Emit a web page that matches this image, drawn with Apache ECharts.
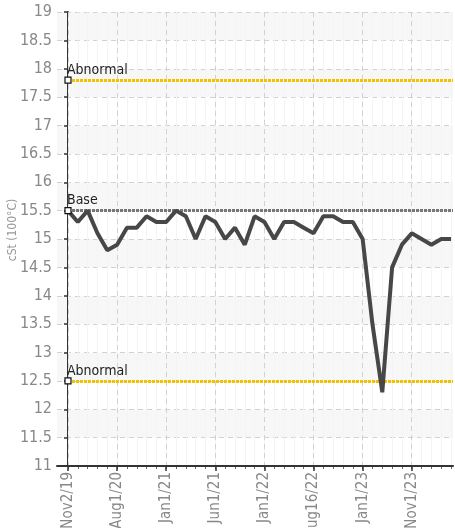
<!DOCTYPE html>
<html><head><meta charset="utf-8">
<script src="https://cdn.jsdelivr.net/npm/echarts@6/dist/echarts.min.js"></script>
<style>html,body{margin:0;padding:0;background:#fff}#c{width:455px;height:528px}</style>
</head><body><div id="c"></div>
<script>
// Category labels shown every 5th sample
const tickLabels = ['Nov2/19','Aug1/20','Jan1/21','Jun1/21','Jan1/22','Aug16/22','Jan1/23','Nov1/23'];
const labelStep = 5;
// Viscosity samples, cSt at 100°C
const viscosity = [15.5,15.3,15.5,15.1,14.8,14.9,15.2,15.2,15.4,15.3,
                   15.3,15.5,15.4,15.0,15.4,15.3,15.0,15.2,14.9,15.4,
                   15.3,15.0,15.3,15.3,15.2,15.1,15.4,15.4,15.3,15.3,
                   15.0,13.5,12.3,14.5,14.9,15.1,15.0,14.9,15.0,15.0];
// Reference limits
const limitNames = ['Abnormal','Base','Abnormal'];
const limitValues = [17.8, 15.5, 12.5];
const yTicks = {min: 11, max: 19, step: 0.5};

const FONT = "'Liberation Sans Narrow','DejaVu Sans Condensed','Roboto',sans-serif";
const limitColors = ['#f2c200','#777777','#f2c200'];
const xMin = -1.12, xMax = 39.2;
const seriesData = viscosity.map((v, i) => [i, v]);
const majorVals = tickLabels.map((_, k) => k * labelStep);
const allVals = viscosity.map((_, i) => i);

const chart = echarts.init(document.getElementById('c'), null, {renderer: 'canvas'});
chart.setOption({
  animation: false,
  backgroundColor: '#fff',
  grid: {left: 57, right: 2, top: 12, bottom: 62, containLabel: false, outerBoundsMode: 'none'},
  xAxis: [{
    type: 'value', min: xMin, max: xMax, position: 'bottom',
    axisLine: {show: true, onZero: false, lineStyle: {color: '#333', width: 2}},
    axisTick: {show: true, customValues: majorVals, length: 5, lineStyle: {color: '#333', width: 1.5}},
    axisLabel: {show: true, customValues: majorVals, rotate: 90, color: '#888', fontSize: 15, fontFamily: FONT, margin: 6,
      formatter: v => tickLabels[Math.round(v / labelStep)] || ''},
    splitLine: {show: true, lineStyle: {color: '#d2d2d2', type: [5, 4], width: 1}},
    z: 3
  }, {
    type: 'value', min: xMin, max: xMax, position: 'bottom',
    axisLine: {show: false, onZero: false},
    axisTick: {show: true, customValues: allVals, length: 3, lineStyle: {color: '#666', width: 1}},
    axisLabel: {show: false},
    splitLine: {show: true, lineStyle: {color: '#f4f4f4', width: 1}},
    z: 1
  }],
  yAxis: {
    type: 'value', min: yTicks.min, max: yTicks.max, interval: yTicks.step,
    name: 'cSt (100°C)', nameLocation: 'middle', nameGap: 38, nameMoveOverlap: false,
    nameTextStyle: {color: '#999', fontSize: 12, fontFamily: FONT, padding: [0, 0, 0, 18]},
    axisLine: {show: true, lineStyle: {color: '#333', width: 2}},
    axisTick: {show: true, length: 4, lineStyle: {color: '#333', width: 1.5}},
    axisLabel: {color: '#888', fontSize: 16, fontFamily: FONT, margin: 5},
    splitLine: {show: true, lineStyle: {color: '#d2d2d2', type: [5, 4], width: 1}},
    splitArea: {show: true, areaStyle: {color: ['#ffffff', '#f7f7f7']}}
  },
  series: [{
    type: 'line', data: seriesData, showSymbol: false, symbol: 'none',
    lineStyle: {color: '#474747', width: 4}, z: 5,
    markLine: {
      silent: true, symbol: ['none', 'none'], z: 4,
      data: limitValues.map((v, k) => [
        {coord: [0, v], name: limitNames[k],
         lineStyle: {color: limitColors[k], width: 3, type: [3, 1]},
         label: {show: true, formatter: limitNames[k], position: 'insideStartTop', distance: [-1, 3],
                 color: '#222', fontSize: 14, fontFamily: FONT}},
        {coord: [xMax, v]}
      ])
    },
    markPoint: {
      silent: true, symbol: 'rect', symbolSize: 6, z: 6,
      itemStyle: {color: '#fff', borderColor: '#111', borderWidth: 1.2},
      label: {show: false},
      data: limitValues.map(v => ({coord: [0, v]}))
    }
  }]
});
</script></body></html>
